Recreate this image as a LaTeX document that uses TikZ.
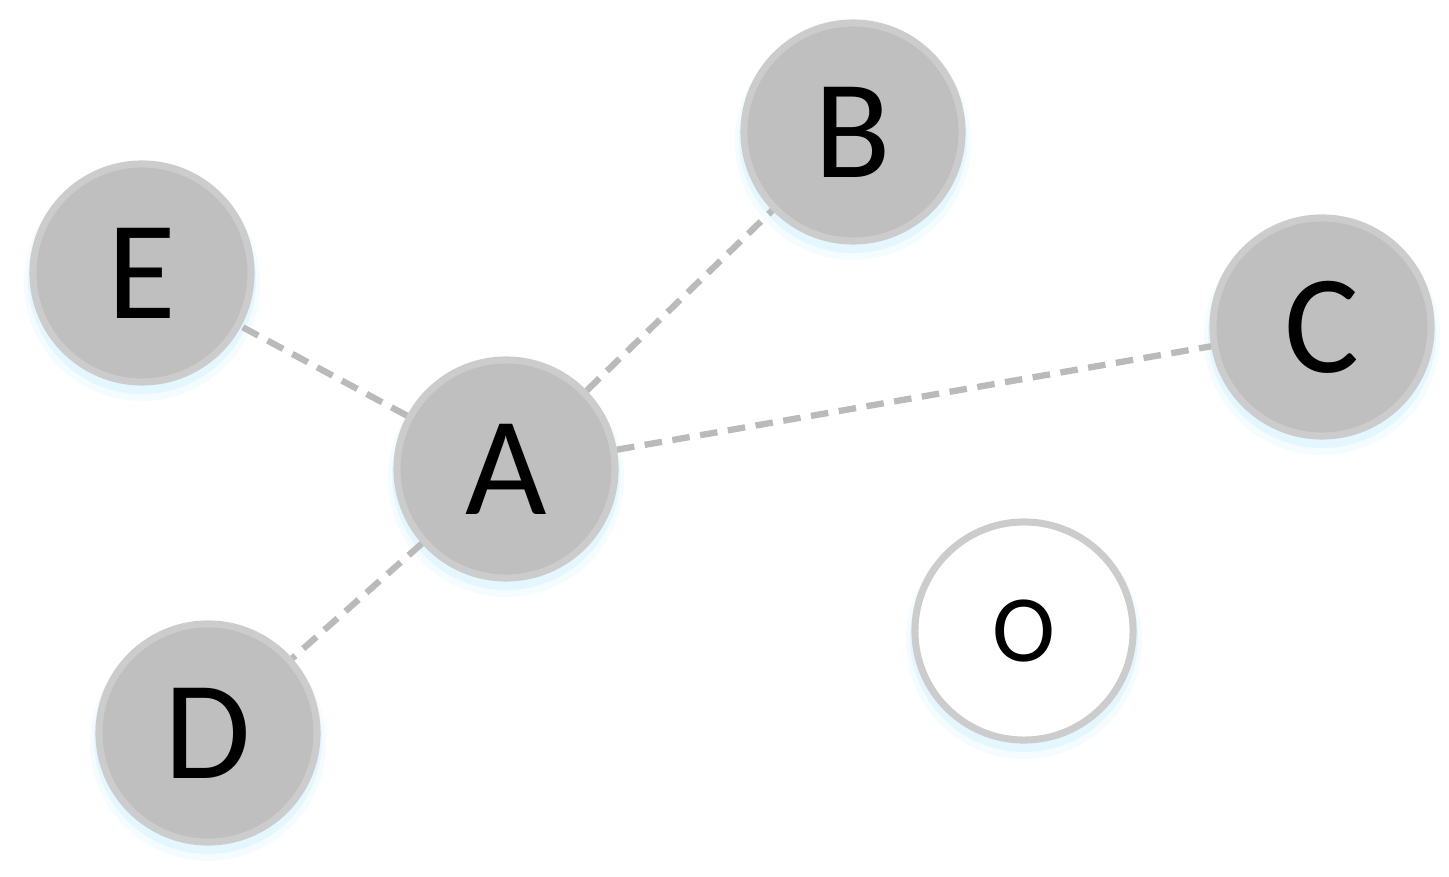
\documentclass[tikz,border=0pt]{standalone}
\usepackage{fontspec}
\setmainfont{Carlito}
\begin{document}
\begin{tikzpicture}[x=0.01cm,y=-0.01cm,
  nd/.style={circle,minimum size=2.18cm,inner sep=0pt,draw=black!20,line width=2pt,fill=black!25,font=\fontsize{40}{40}\selectfont},
  ond/.style={nd,fill=white,font=\fontsize{27}{27}\selectfont},
  con/.style={draw=black!27,line width=1.8pt,dash pattern=on 5pt off 3pt},
  shd/.style={fill=blue!30!cyan!15,opacity=.6}]
\useasboundingbox (0,0) rectangle (1449,877);
\foreach \x/\y in {506/469,853/132,1322/327,142/273,208/733,1024/631}{
  \fill[shd] (\x,\y+7) circle (1.14cm);
  \fill[shd,opacity=.3] (\x,\y+10) circle (1.18cm);}
\node[nd] (A) at (506,469) {A};
\node[nd] (B) at (853,132) {B};
\node[nd] (C) at (1322,327) {C};
\node[nd] (E) at (142,273) {E};
\node[nd] (D) at (208,733) {D};
\node[ond] (O) at (1024,631) {O};
\draw[con] (A) -- (B);
\draw[con] (A) -- (C);
\draw[con] (A) -- (E);
\draw[con] (A) -- (D);
\end{tikzpicture}
\end{document}
